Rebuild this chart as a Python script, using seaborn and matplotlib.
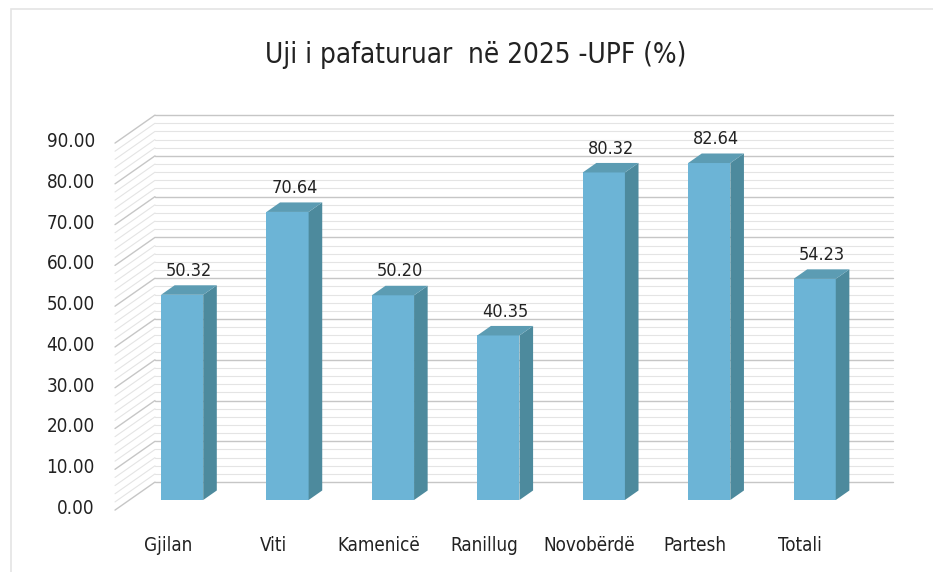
import numpy as np
import pandas as pd
import matplotlib
matplotlib.use('Agg')
import matplotlib.pyplot as plt
from matplotlib import font_manager
from matplotlib.patches import Polygon, Rectangle
import seaborn as sns

# Te dhenat
komunat = ['Gjilan', 'Viti', 'Kamenicë', 'Ranillug', 'Novobërdë', 'Partesh', 'Totali']
upf = [50.32, 70.64, 50.20, 40.35, 80.32, 82.64, 54.23]
yticks = [0, 10, 20, 30, 40, 50, 60, 70, 80, 90]
titulli = 'Uji i pafaturuar  në 2025 -UPF (%)'

df = pd.DataFrame({'Komuna': komunat, 'UPF': upf})

sns.set_theme(style='white')
emrat = {f.name for f in font_manager.fontManager.ttflist}
if 'Liberation Sans Narrow' in emrat:
    plt.rcParams['font.family'] = ['Liberation Sans Narrow', 'DejaVu Sans']
    shtrirja = 'normal'
else:
    plt.rcParams['font.family'] = ['DejaVu Sans']
    shtrirja = 'condensed'

W, H = 933, 572
fig = plt.figure(figsize=(W / 100, H / 100), dpi=100)
fig.patch.set_facecolor('white')

# rrafshi i shtyllave (pixel)
x_maj, x_dja = 129.4, 867.4
y_poshte, y_lart = 500, 133
ax = fig.add_axes([x_maj / W, 1 - y_poshte / H, (x_dja - x_maj) / W, (y_poshte - y_lart) / H])
ax.set_xlim(-0.5, 6.5)
ax.set_ylim(0, 90)
ax.axis('off')

px_x = (x_dja - x_maj) / 7
px_y = (y_poshte - y_lart) / 90
# thellesia (pixel -> njesi te te dhenave)
dx = 40 / px_x
dy = 28 / px_y
d0 = 0.36       # pozicioni i shtyllave ne thellesi
dt = 0.34       # trashesia e shtyllave

bx, by = (1 - d0) * dx, (1 - d0) * dy     # muri i pasem
fx, fy = -d0 * dx, -d0 * dy               # rrafshi i perparem

# vijat e rrjetit
for v in np.arange(0, 90.1, 2):
    major = v % 10 == 0
    c = '#c6c6c6' if major else '#e4e4e4'
    lw = 1.0 if major else 0.8
    ax.plot([-0.5 + bx, 6.5 + bx], [v + by, v + by], color=c, lw=lw, clip_on=False, zorder=1)
    ax.plot([-0.5 + fx, -0.5 + bx], [v + fy, v + by], color=c, lw=lw, clip_on=False, zorder=1)

# shtyllat
sns.barplot(data=df, x='Komuna', y='UPF', color='#6cb4d6', saturation=1, width=0.4,
            ax=ax, zorder=3)
ax.set_xlim(-0.5, 6.5)
ax.set_ylim(0, 90)
ax.axis('off')

ddx, ddy = dt * dx, dt * dy
for p in ax.patches:
    x0, w, h = p.get_x(), p.get_width(), p.get_height()
    p.set_edgecolor('none')
    p.set_clip_on(False)
    anash = Polygon([(x0 + w, 0), (x0 + w + ddx, ddy), (x0 + w + ddx, h + ddy), (x0 + w, h)],
                    closed=True, facecolor='#4d8a9d', edgecolor='none', zorder=3, clip_on=False)
    siper = Polygon([(x0, h), (x0 + ddx, h + ddy), (x0 + w + ddx, h + ddy), (x0 + w, h)],
                    closed=True, facecolor='#5c9cb3', edgecolor='none', zorder=3, clip_on=False)
    ax.add_patch(anash)
    ax.add_patch(siper)
    ax.text(x0 + w / 2 + ddx / 2, h + ddy + 1.3, f'{h:.2f}', ha='center', va='bottom',
            fontsize=13, color='#222222', fontstretch=shtrirja, zorder=4)

# etiketat e boshteve
for v in yticks:
    ax.text(-0.5 + fx - 20 / px_x, v + fy + 0.4, f'{v:.2f}', ha='right', va='center',
            fontsize=13.5, color='#222222', fontstretch=shtrirja)
for i, k in enumerate(komunat):
    ax.text(i + fx, fy - 35 / px_y, k, ha='center', va='center',
            fontsize=13.5, color='#222222', fontstretch=shtrirja)

fig.text(476 / W, 1 - 55 / H, titulli, ha='center', va='center', fontsize=20,
         color='#222222', fontstretch=shtrirja)

# korniza
fig.patches.append(Rectangle((11 / W, -0.1), 1.2, 1 - 9 / H + 0.1, transform=fig.transFigure,
                             fill=False, edgecolor='#e4e4e4', lw=1.2))

fig.savefig('out.png', dpi=100, facecolor='white')
